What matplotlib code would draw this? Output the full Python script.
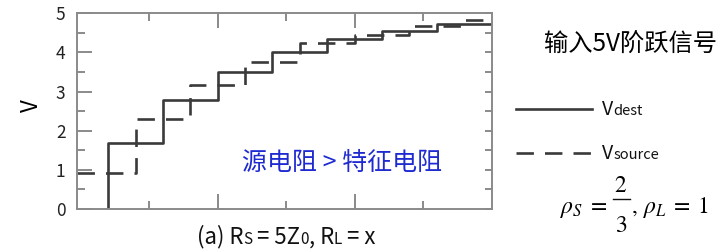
import matplotlib
matplotlib.use("Agg")
import matplotlib.pyplot as plt
from matplotlib.lines import Line2D
from matplotlib.offsetbox import TextArea, HPacker, AnnotationBbox
from matplotlib.ticker import FixedLocator

plt.rcParams['font.family'] = ['Noto Sans CJK SC', 'DejaVu Sans']
plt.rcParams['mathtext.fontset'] = 'stix'

# 读图得到的数据 (时间单位: 刻度间隔 = 1, 一次传播延时 T = 0.4)
t_dest = [0.4, 1.2, 2.0, 2.8, 3.6, 4.4, 5.2]
v_dest = [1.69, 2.78, 3.49, 4.02, 4.35, 4.55, 4.73]
t_src = [0.0, 0.8, 1.6, 2.4, 3.2, 4.0, 4.8, 5.6]
v_src = [0.92, 2.29, 3.17, 3.75, 4.23, 4.45, 4.68, 4.82]
x_lo, x_hi = -0.05, 6.0

line_c = '#3a3a3a'
axis_c = '#8a8a8a'
dash = (6.6, 4.2)

fig = plt.figure(figsize=(7.27, 2.5), dpi=100)
ax = fig.add_axes([0.1063, 0.164, 0.570, 0.7828])

# Vdest: 0 -> 阶跃
ax.step([t_dest[0]] + t_dest + [x_hi], [0] + v_dest + [v_dest[-1]],
        where='post', color=line_c, lw=1.9)
# Vsource: 从左边框开始
ax.step([x_lo] + t_src[1:] + [x_hi], v_src + [v_src[-1]],
        where='post', color=line_c, lw=1.9, dashes=dash)

ax.set_xlim(x_lo, x_hi)
ax.set_ylim(0, 5)

for s in ax.spines.values():
    s.set_color(axis_c)
    s.set_linewidth(1.4)

ax.xaxis.set_major_locator(FixedLocator([2, 4]))
ax.xaxis.set_minor_locator(FixedLocator([1, 3, 5]))
ax.yaxis.set_major_locator(FixedLocator([0, 1, 2, 3, 4, 5]))
ax.yaxis.set_minor_locator(FixedLocator([0.5, 1.5, 2.5, 3.5, 4.5]))
ax.tick_params(which='both', direction='in', color=axis_c, width=1.4,
               top=True, bottom=True, left=True, right=False,
               labelbottom=False)
ax.tick_params(which='major', length=10.8)
ax.tick_params(which='minor', length=6)
ax.tick_params(axis='y', labelsize=12.5, pad=8.5, labelcolor='#222222')

# 右侧短刻度
sec = ax.secondary_yaxis('right')
sec.set_yticks([0.5 * i for i in range(11)])
sec.tick_params(direction='in', length=5, width=1.4, color=axis_c,
                labelright=False)
sec.spines['right'].set_visible(False)

ax.set_ylabel('V', fontsize=16, rotation=90, va='center', ha='center')
ax.yaxis.set_label_coords(-0.11, 0.53)

ax.text(0.397, 0.235, '源电阻 > 特征电阻', transform=ax.transAxes,
        fontsize=18, color='#1f2bd0', va='center', ha='left')


def rich(parts, xy, align):
    kids = [TextArea(s, textprops=dict(fontsize=fs, color='#111111'))
            for s, fs in parts]
    box = HPacker(children=kids, align='baseline', pad=0, sep=0)
    ab = AnnotationBbox(box, xy, xycoords='figure fraction',
                        box_alignment=align, frameon=False, pad=0)
    fig.add_artist(ab)


rich([('(a) R', 16), ('S', 11), (' = 5Z', 16), ('0', 11),
      (', R', 16), ('L', 11), (' = x', 16)], (0.3935, 0.006), (0.5, 0))

# 图例 (画在坐标轴外)
fig.add_artist(Line2D([0.710, 0.814], [0.566, 0.566], color=line_c, lw=1.9))
fig.add_artist(Line2D([0.710, 0.814], [0.388, 0.388], color=line_c, lw=1.9,
                      dashes=dash))
rich([('V', 14), ('dest', 10.5)], (0.828, 0.563), (0, 0.5))
rich([('V', 14), ('source', 10.5)], (0.828, 0.385), (0, 0.5))

fig.text(0.748, 0.82, '输入5V阶跃信号', fontsize=17.5, va='center', ha='left')

# rho_S = 2/3, rho_L = 1  (分式单独排版, 以得到大号分子分母)
fs_m = 17
fig.text(0.836, 0.148, r'$\rho_S\;=$', fontsize=fs_m, ha='right', va='baseline')
fig.text(0.854, 0.233, r'$2$', fontsize=fs_m, ha='center', va='baseline')
fig.text(0.854, 0.070, r'$3$', fontsize=fs_m, ha='center', va='baseline')
fig.add_artist(Line2D([0.843, 0.8665], [0.204, 0.204], color='#111111', lw=1.0))
fig.text(0.868, 0.148, r'$,\,\rho_L\;=\;1$', fontsize=fs_m, ha='left',
         va='baseline')

fig.savefig('out.png', dpi=100)
